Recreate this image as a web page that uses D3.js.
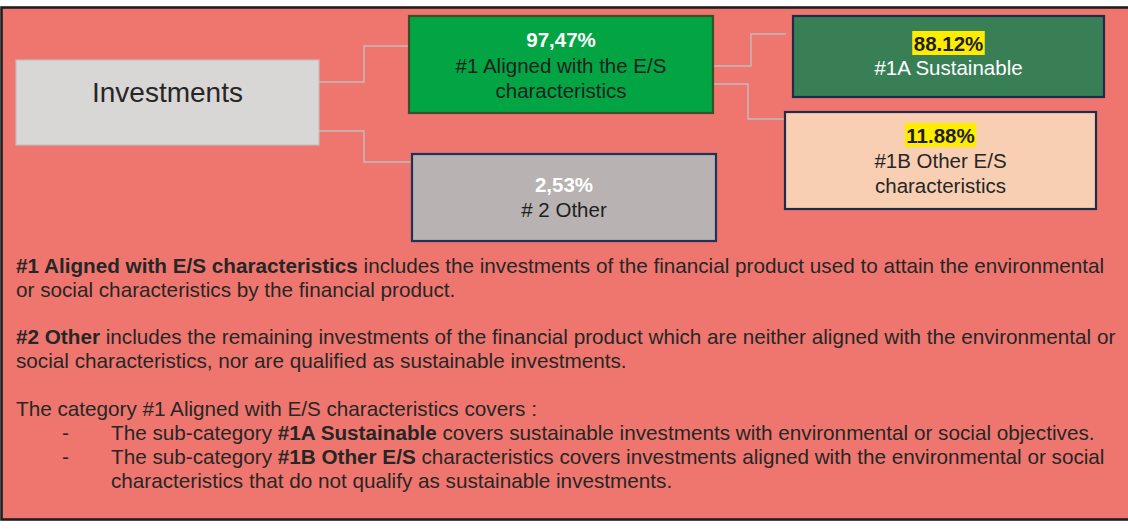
<!DOCTYPE html>
<html>
<head>
<meta charset="utf-8">
<script src="https://cdn.jsdelivr.net/npm/d3@7"></script>
<style>
  html, body { margin: 0; padding: 0; background: #ffffff; }
  svg { display: block; }
  text { font-family: "Liberation Sans", Arial, sans-serif; }
</style>
</head>
<body>
<svg id="chart" width="1128" height="529"></svg>
<script>
// ---------- DATA ----------
const categories = ["Investments", "#1 Aligned with the E/S characteristics", "# 2 Other", "#1A Sustainable", "#1B Other E/S characteristics"];
const shareValues = [100, 97.47, 2.53, 88.12, 11.88];
const shareLabels = ["", "97,47%", "2,53%", "88.12%", "11.88%"];
const labelLines = [["Investments"], ["#1 Aligned with the E/S", "characteristics"], ["# 2 Other"], ["#1A Sustainable"], ["#1B Other E/S", "characteristics"]];
const links = [[0, 1], [0, 2], [1, 3], [1, 4]];

const paragraphLines = [
  [["#1 Aligned with E/S characteristics", true], [" includes the investments of the financial product used to attain the environmental", false]],
  [["or social characteristics by the financial product.", false]],
  null,
  [["#2 Other", true], [" includes the remaining investments of the financial product which are neither aligned with the environmental or", false]],
  [["social characteristics, nor are qualified as sustainable investments.", false]],
  null,
  [["The category #1 Aligned with E/S characteristics covers :", false]]
];
const bulletLines = [
  [["The sub-category ", false], ["#1A Sustainable", true], [" covers sustainable investments with environmental or social objectives.", false]],
  [["The sub-category ", false], ["#1B Other E/S", true], [" characteristics covers investments aligned with the environmental or social", false]],
  [["characteristics that do not qualify as sustainable investments.", false]]
];
const bulletDash = [true, true, false];

// ---------- LAYOUT ----------
const svg = d3.select("#chart");
const boxes = [
  {x: 16,  y: 60,  w: 303, h: 85, fill: "#d9d6d6", stroke: "#bfbfbf", sw: 1.2, pctFill: null, txt: "#262626", size: 28, pctY: 0, lineY: [101.5]},
  {x: 409, y: 16,  w: 304, h: 97, fill: "#02a443", stroke: "#3c4e26", sw: 2.2, pctFill: "#ffffff", hl: false, txt: "#1f1f1f", size: 20.5, pctY: 47, lineY: [73, 98]},
  {x: 412, y: 154, w: 304, h: 87, fill: "#b8b2b2", stroke: "#213157", sw: 2.2, pctFill: "#ffffff", hl: false, txt: "#1f1f1f", size: 20.5, pctY: 192, lineY: [217]},
  {x: 793, y: 16,  w: 311, h: 81, fill: "#387f56", stroke: "#1f2b4d", sw: 2.2, pctFill: "#1f1f1f", hl: true, txt: "#ffffff", size: 20.5, pctY: 51, lineY: [75]},
  {x: 785, y: 112, w: 311, h: 97, fill: "#f8cfb2", stroke: "#1f2b4d", sw: 2.2, pctFill: "#1f1f1f", hl: true, txt: "#262626", size: 20.5, pctY: 143, lineY: [168, 193]}
];
const linkPaths = [
  [[319, 82], [364, 82], [364, 46], [409, 46]],
  [[319, 131], [364, 131], [364, 162], [412, 162]],
  [[713, 66], [751, 66], [751, 34], [786, 34]],
  [[713, 84], [748, 84], [748, 119], [785, 119]]
];

// outer frame
svg.append("rect")
  .attr("x", 1.5).attr("y", 7.5).attr("width", 1140).attr("height", 512)
  .attr("fill", "#ef766e").attr("stroke", "#1e1e1e").attr("stroke-width", 2.6);

// connectors
const line = d3.line();
svg.selectAll("path.link").data(links).join("path")
  .attr("class", "link")
  .attr("d", (d, i) => line(linkPaths[i]))
  .attr("fill", "none").attr("stroke", "#c2bcbc").attr("stroke-width", 1.4);

// boxes
const g = svg.selectAll("g.node").data(categories).join("g").attr("class", "node");
g.append("rect")
  .attr("x", (d, i) => boxes[i].x).attr("y", (d, i) => boxes[i].y)
  .attr("width", (d, i) => boxes[i].w).attr("height", (d, i) => boxes[i].h)
  .attr("fill", (d, i) => boxes[i].fill)
  .attr("stroke", (d, i) => boxes[i].stroke)
  .attr("stroke-width", (d, i) => boxes[i].sw);

g.each(function(d, i) {
  const b = boxes[i];
  const node = d3.select(this);
  const cx = b.x + b.w / 2;
  if (shareLabels[i]) {
    const hlRect = node.append("rect").attr("fill", "#ffed00");
    const t = node.append("text")
      .attr("x", cx).attr("y", b.pctY)
      .attr("text-anchor", "middle")
      .attr("font-size", 20.5).attr("font-weight", "bold")
      .attr("fill", b.pctFill)
      .text(shareLabels[i]);
    if (b.hl) {
      const bb = t.node().getBBox();
      hlRect.attr("x", bb.x - 1.5).attr("y", b.pctY - 20).attr("width", bb.width + 3).attr("height", 24);
    } else {
      hlRect.remove();
    }
  }
  labelLines[i].forEach((ln, k) => {
    node.append("text")
      .attr("x", cx).attr("y", b.lineY[k])
      .attr("text-anchor", "middle")
      .attr("font-size", b.size)
      .attr("fill", b.txt)
      .text(ln);
  });
});

// paragraphs
const paraX = 16, paraY0 = 272.7, paraStep = 23.9;
const pg = svg.append("g").attr("font-size", 20.7).attr("fill", "#262626");
paragraphLines.forEach((ln, k) => {
  if (!ln) return;
  const t = pg.append("text").attr("x", paraX).attr("y", paraY0 + k * paraStep);
  ln.forEach(([s, bold]) => t.append("tspan").attr("font-weight", bold ? "bold" : "normal").text(s));
});
const bulletY0 = paraY0 + 7 * paraStep;
bulletLines.forEach((ln, k) => {
  const y = bulletY0 + k * paraStep;
  if (bulletDash[k]) pg.append("text").attr("x", 62).attr("y", y).text("-");
  const t = pg.append("text").attr("x", 111).attr("y", y);
  ln.forEach(([s, bold]) => t.append("tspan").attr("font-weight", bold ? "bold" : "normal").text(s));
});
</script>
</body>
</html>
